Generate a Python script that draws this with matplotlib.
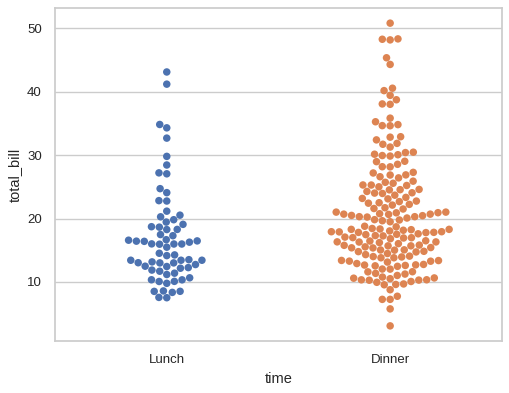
import seaborn as sns
import pandas as pd
from matplotlib import pyplot as plt

# total_bill per meal time (tips data)
lunch = [27.20, 22.76, 17.29, 19.44, 16.66, 10.07, 32.68, 15.98, 34.83, 13.03,
         18.28, 24.71, 21.16,
         10.65, 12.43, 24.08, 11.69, 13.42, 14.26, 15.95, 12.48, 29.80, 8.52,
         14.52, 11.38, 22.82, 19.08, 20.27, 11.17, 12.26, 18.26, 8.51, 10.33,
         14.15, 16.00, 13.16, 17.47, 34.30, 41.19, 27.05, 16.43, 8.35, 18.64,
         11.87, 9.78, 7.51,
         19.81, 28.44, 15.48, 16.58, 7.56, 10.34, 43.11, 13.00, 13.51, 18.71,
         12.74, 13.00, 16.40, 20.53, 16.47,
         12.16, 13.42, 8.58, 15.98, 13.42, 16.27, 10.09]

dinner = [16.99, 10.34, 21.01, 23.68, 24.59, 25.29, 8.77, 26.88, 15.04, 14.78,
          10.27, 35.26, 15.42, 18.43, 14.83, 21.58, 10.33, 16.29, 16.97, 20.65,
          17.92, 20.29, 15.77, 39.42, 19.82, 17.81, 13.37, 12.69, 21.70, 19.65,
          9.55, 18.35, 15.06, 20.69, 17.78, 24.06, 16.31, 16.93, 18.69, 31.27,
          16.04, 17.46, 13.94, 9.68, 30.40, 18.29, 22.23, 32.40, 28.55, 18.04,
          12.54, 10.29, 34.81, 9.94, 25.56, 19.49, 38.01, 26.41, 11.24, 48.27,
          20.29, 13.81, 11.02, 18.29, 17.59, 20.08, 16.45, 3.07, 20.23, 15.01,
          12.02, 17.07, 26.86, 25.28, 14.73, 10.51, 17.92,
          28.97, 22.49, 5.75, 16.32, 22.75, 40.17, 27.28, 12.03, 21.01, 12.46,
          11.35, 15.38, 44.30, 22.42, 20.92, 15.36, 20.49, 25.21, 18.24, 14.31,
          14.00, 7.25, 38.07, 23.95, 25.71, 17.31, 29.93,
          14.07, 13.13, 17.26, 24.55, 19.77, 29.85, 48.17, 25.00, 13.39, 16.49,
          21.50, 12.66, 16.21, 13.81, 17.51, 24.52, 20.76, 31.71, 10.59, 10.63,
          50.81, 15.81, 7.25, 31.85, 16.82, 32.90, 17.89, 14.48, 9.60, 34.63,
          34.65, 23.33, 45.35, 23.17, 40.55, 20.69, 20.90, 30.46, 18.15, 23.10,
          15.69,
          26.59, 38.73, 24.27, 12.76, 30.06, 25.89, 48.33, 13.27, 28.17, 12.90,
          28.15, 11.59, 7.74, 30.14,
          20.45, 13.28, 22.12, 24.01, 15.69, 11.61, 10.77, 15.53, 10.07, 12.60,
          32.83, 35.83, 29.03, 27.18, 22.67, 17.82, 18.78]

times = ['Lunch', 'Dinner']

df = pd.DataFrame({
    'time': ['Lunch'] * len(lunch) + ['Dinner'] * len(dinner),
    'total_bill': lunch + dinner,
})

sns.set_theme(style='whitegrid')
plt.rcParams['font.family'] = ['Liberation Sans', 'DejaVu Sans']

fig = plt.figure(figsize=(5.1, 3.93), dpi=100)
ax = fig.add_axes([0.108, 0.1323, 0.876, 0.8473])

pal = sns.color_palette('deep')[:2]
sns.swarmplot(data=df, x='time', y='total_bill', hue='time', order=times,
              hue_order=times, palette=pal, size=5.4, legend=False, ax=ax)

ax.tick_params(axis='both', labelsize=9.5, colors='.15')
ax.set_xlabel('time', fontsize=10.5, color='.15')
ax.set_ylabel('total_bill', fontsize=10.5, color='.15')
ax.set_yticks([10, 20, 30, 40, 50])

fig.savefig('out.png', dpi=100)
